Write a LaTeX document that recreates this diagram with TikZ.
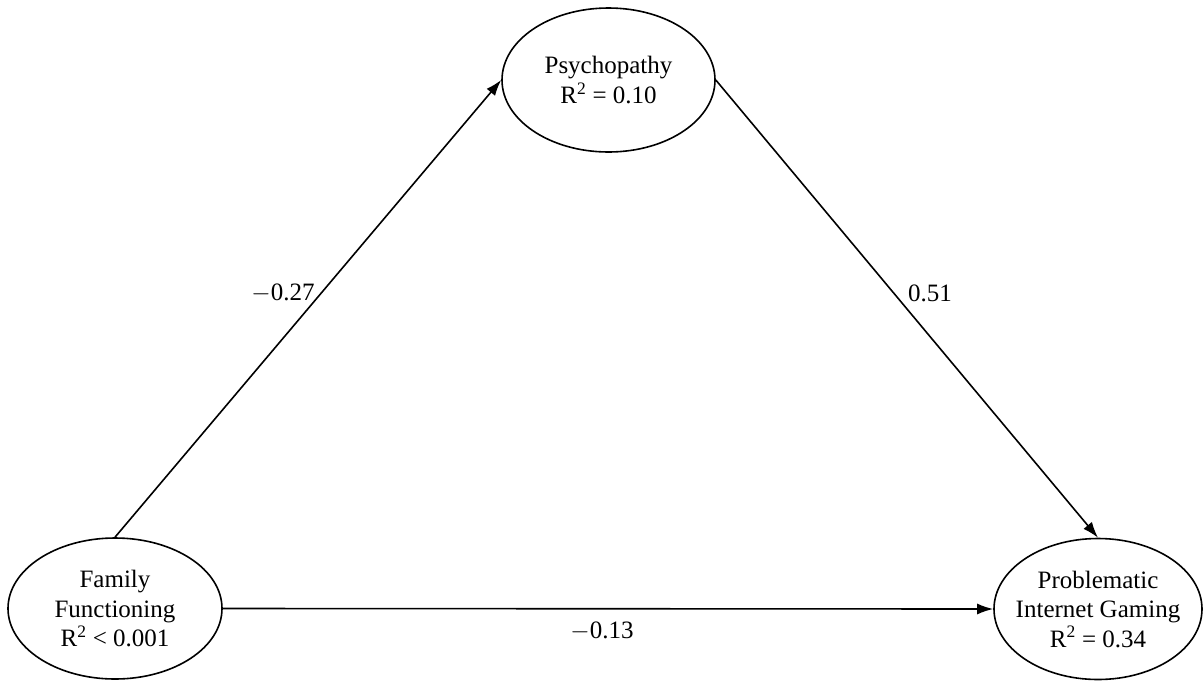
\documentclass[tikz,border=0pt]{standalone}
\usepackage{fontspec}
\setmainfont{Liberation Serif}
\usetikzlibrary{shapes.geometric,arrows.meta}
\begin{document}
\begin{tikzpicture}[x=1pt,y=-1pt,
  latent/.style={draw, ellipse, line width=1.6pt, inner sep=0pt, align=center,
    font=\fontsize{25}{29.5}\selectfont},
  path/.style={line width=1.6pt, -{Latex[length=16pt,width=11pt]}},
  coef/.style={font=\fontsize{25}{29.5}\selectfont, inner sep=0pt}]
\useasboundingbox (0,0) rectangle (1203,681);
\node[latent, minimum width=213pt, minimum height=144pt] (psy) at (608.5,80) {Psychopathy\\R\textsuperscript{2} = 0.10};
\node[latent, minimum width=214pt, minimum height=141pt] (fam) at (115,608.5) {Family\\Functioning\\R\textsuperscript{2} < 0.001};
\node[latent, inner xsep=-10pt, minimum width=208pt, minimum height=141pt] (pig) at (1098,609) {Problematic\\Internet Gaming\\R\textsuperscript{2} = 0.34};
\draw[path] (fam.north) -- (psy.west);
\draw[path] (psy.east) -- (pig.north);
\draw[path] (fam.east) -- (pig.west);
\node[coef] (c1) at (283,293) {$-$0.27};
\node[coef] (c2) at (930,293) {0.51};
\node[coef] (c3) at (602,631) {$-$0.13};
\end{tikzpicture}
\end{document}
